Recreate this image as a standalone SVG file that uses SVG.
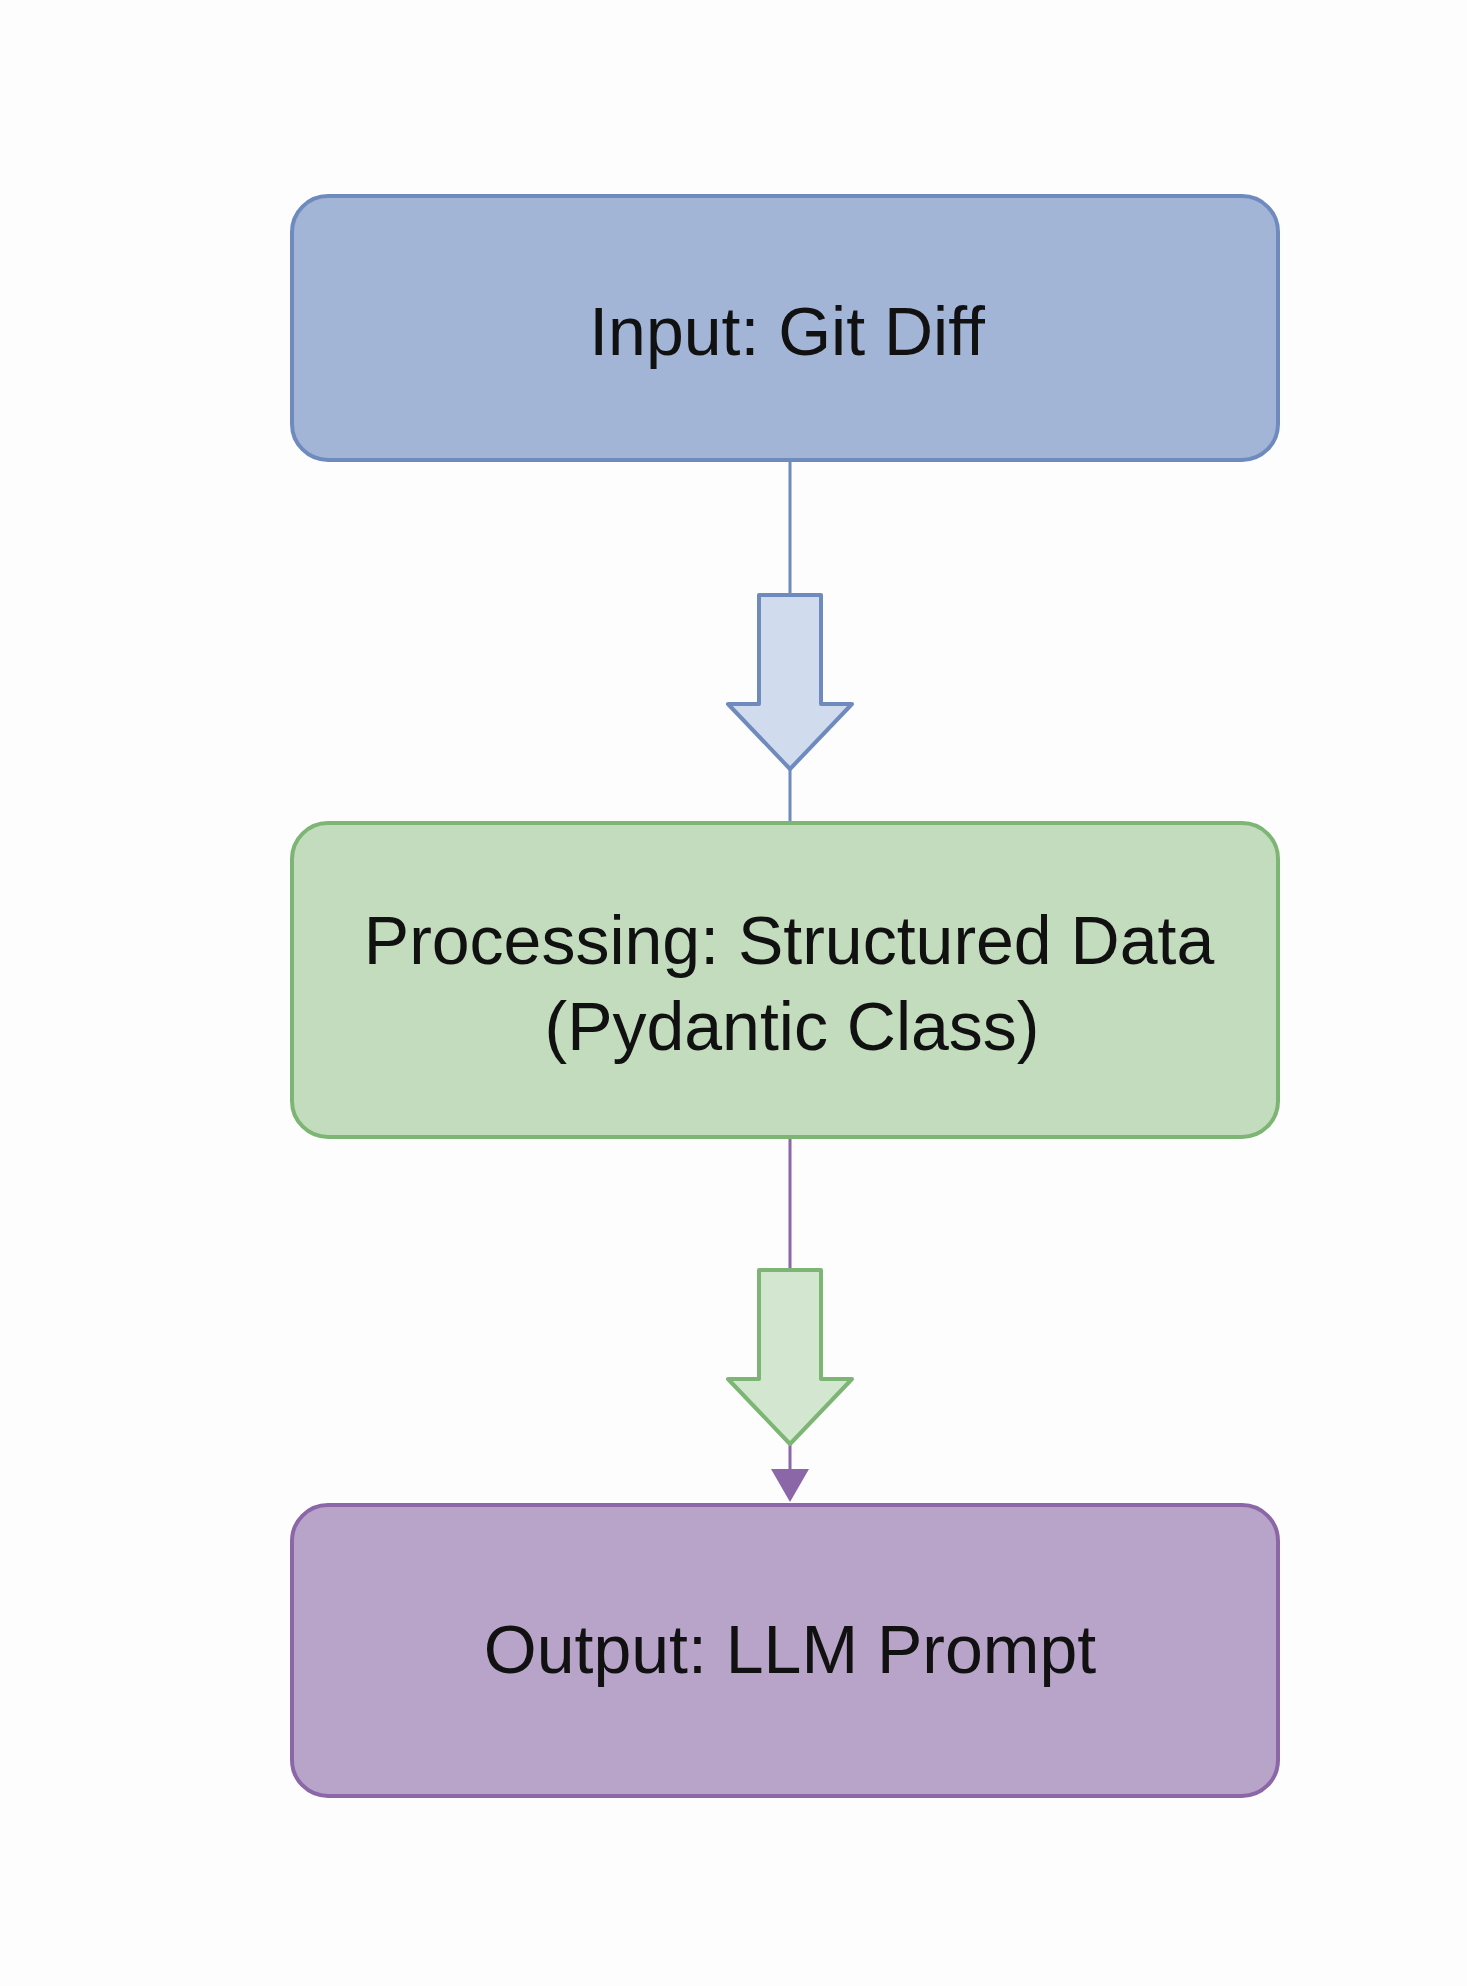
<svg xmlns="http://www.w3.org/2000/svg" width="1467" height="1986" viewBox="0 0 1467 1986">
  <defs>
    <style>
      .box { stroke-width: 4; }
      .label { font-family: "Liberation Sans", Arial, sans-serif; font-size: 68px; fill: #111111; text-anchor: middle; }
      .conn { fill: none; stroke-width: 3; }
      .block { stroke-width: 4; stroke-linejoin: round; }
    </style>
    <marker id="purpleHead" viewBox="0 0 33 38" refX="21" refY="19" markerWidth="33" markerHeight="38" markerUnits="userSpaceOnUse" orient="auto">
      <path d="M0,0 L33,19 L0,38 z" fill="#8b67a8"/>
    </marker>
  </defs>
  <rect width="1467" height="1986" fill="#fdfdfd"/>

  <g id="connectors">
    <line class="conn" x1="790" y1="460" x2="790" y2="823" stroke="#6f8bbd"/>
    <line class="conn" x1="790" y1="1137" x2="790" y2="1490" stroke="#8b67a8" marker-end="url(#purpleHead)"/>
    <path class="block" d="M759,595 L821,595 L821,704 L852,704 L790,769 L728,704 L759,704 Z" fill="#d0dbed" stroke="#6f8bbd"/>
    <path class="block" d="M759,1270 L821,1270 L821,1379 L852,1379 L790,1444 L728,1379 L759,1379 Z" fill="#d3e6d0" stroke="#7db574"/>
  </g>

  <g id="node-input">
    <rect class="box" x="292" y="196" width="986" height="264" rx="36" fill="#a3b5d6" stroke="#6f8bbd"/>
    <text class="label" x="787" y="355">Input: Git Diff</text>
  </g>

  <g id="node-processing">
    <rect class="box" x="292" y="823" width="986" height="314" rx="36" fill="#c2dcbd" stroke="#7db574"/>
    <text class="label" x="789" y="964">Processing: Structured Data</text>
    <text class="label" x="792" y="1050">(Pydantic Class)</text>
  </g>

  <g id="node-output">
    <rect class="box" x="292" y="1505" width="986" height="291" rx="36" fill="#b9a4c9" stroke="#8b67a8"/>
    <text class="label" x="790" y="1673">Output: LLM Prompt</text>
  </g>
</svg>
